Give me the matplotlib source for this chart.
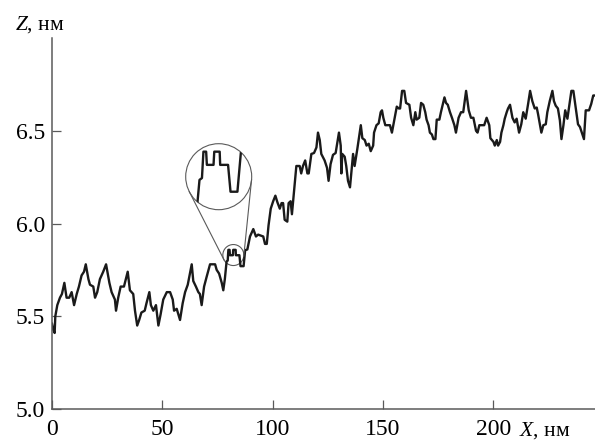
import numpy as np
import matplotlib
matplotlib.use("Agg")
import matplotlib.pyplot as plt
from matplotlib.patches import Circle
from matplotlib.transforms import ScaledTranslation

plt.rcParams["font.family"] = ["Liberation Serif", "DejaVu Serif"]
plt.rcParams["mathtext.fontset"] = "custom"
plt.rcParams["mathtext.rm"] = "Liberation Serif"
plt.rcParams["mathtext.it"] = "Liberation Serif:italic"

# profile: X (nm), Z (nm)
x_nm = [
    0.0, 0.5, 1.2, 1.5, 2.4, 3.6, 4.5, 5.6, 6.6, 7.8, 8.9, 10.0, 11.2, 12.2,
    13.4, 14.5, 15.3, 16.5, 17.2, 18.7, 19.5, 20.5, 21.7, 23.2, 24.5, 26.0,
    27.0, 28.5, 29.0, 30.0, 31.1, 32.6, 34.3, 35.3, 36.8, 37.6, 38.6, 39.5,
    40.5, 42.0, 42.8, 44.1, 44.8, 45.9, 47.1, 48.2, 49.2, 50.4, 52.0, 53.5,
    54.7, 55.3, 56.5, 58.0, 59.2, 60.3, 61.5, 63.3, 64.0, 65.2, 66.3, 67.0,
    67.8, 68.9, 70.0, 71.6, 73.9, 74.6, 75.7, 76.9, 77.6, 78.3, 78.7, 79.1,
    79.6, 79.9, 80.45, 80.6, 81.95, 82.1, 83.2, 83.3, 84.9, 85.4, 86.8, 87.5,
    88.5, 89.7, 91.2, 92.4, 93.4, 95.7, 96.5, 97.3, 98.1, 99.1, 100.2, 101.2,
    102.1, 103.2, 104.0, 104.7, 105.4, 106.6, 107.2, 108.1, 108.7, 109.6,
    110.7, 112.2, 112.9, 113.7, 114.7, 115.7, 116.3, 117.5, 118.7, 119.8,
    120.5, 121.3, 122.0, 123.5, 124.6, 125.3, 126.2, 127.3, 128.5, 130.0,
    130.8, 131.1, 131.5, 132.6, 133.3, 134.1, 135.0, 135.6, 136.4, 137.1,
    138.3, 139.9, 140.6, 141.7, 142.5, 143.5, 144.4, 145.5, 145.9, 147.0,
    148.0, 148.9, 149.5, 150.1, 151.0, 153.1, 154.0, 155.1, 156.2, 157.1,
    157.7, 158.6, 159.6, 160.4, 161.9, 162.7, 163.7, 164.6, 165.2, 166.4,
    167.2, 168.2, 169.1, 169.7, 170.6, 171.2, 172.1, 172.8, 173.7, 174.3,
    175.5, 176.2, 177.8, 178.5, 179.3, 180.3, 181.2, 182.3, 183.0, 184.2,
    185.3, 186.3, 187.6, 188.8, 189.8, 190.9, 192.1, 192.8, 193.6, 195.8,
    196.9, 198.1, 198.6, 200.0, 200.6, 201.5, 202.1, 203.0, 203.6, 204.5,
    205.1, 206.0, 206.6, 207.5, 208.6, 209.6, 210.5, 211.6, 212.6, 213.5,
    214.6, 215.7, 216.6, 217.6, 218.7, 219.6, 220.2, 221.1, 221.7, 222.6,
    223.7, 224.4, 225.5, 226.7, 227.4, 228.2, 229.2, 230.1, 230.8, 231.7,
    232.5, 233.5, 234.3, 235.3, 236.2, 237.3, 238.3, 239.2, 240.3, 241.0,
    241.8, 243.3, 244.3, 245.2, 246.0,
]
z_nm = [
    5.46, 5.43, 5.41, 5.50, 5.56, 5.60, 5.62, 5.68, 5.60, 5.60, 5.63, 5.56,
    5.62, 5.66, 5.72, 5.74, 5.78, 5.70, 5.67, 5.66, 5.60, 5.63, 5.70, 5.74,
    5.78, 5.68, 5.63, 5.59, 5.53, 5.60, 5.66, 5.66, 5.74, 5.64, 5.62, 5.53,
    5.45, 5.48, 5.52, 5.53, 5.57, 5.63, 5.56, 5.53, 5.56, 5.45, 5.51, 5.59,
    5.63, 5.63, 5.59, 5.53, 5.54, 5.48, 5.57, 5.63, 5.67, 5.78, 5.69, 5.66,
    5.63, 5.62, 5.56, 5.66, 5.71, 5.78, 5.78, 5.75, 5.73, 5.68, 5.64, 5.70,
    5.748, 5.796, 5.80, 5.858, 5.858, 5.829, 5.829, 5.858, 5.858, 5.829,
    5.829, 5.77, 5.77, 5.856, 5.86, 5.93, 5.97, 5.93, 5.94, 5.93, 5.89, 5.89,
    5.99, 6.08, 6.12, 6.15, 6.115, 6.08, 6.11, 6.11, 6.02, 6.01, 6.11, 6.12,
    6.05, 6.17, 6.31, 6.31, 6.27, 6.31, 6.34, 6.27, 6.27, 6.375, 6.38, 6.41,
    6.49, 6.45, 6.375, 6.34, 6.30, 6.23, 6.32, 6.37, 6.38, 6.49, 6.42, 6.27,
    6.375, 6.36, 6.31, 6.23, 6.195, 6.27, 6.375, 6.31, 6.40, 6.53, 6.46, 6.45,
    6.42, 6.43, 6.39, 6.42, 6.49, 6.53, 6.54, 6.60, 6.61, 6.57, 6.53, 6.53,
    6.49, 6.56, 6.63, 6.62, 6.62, 6.715, 6.715, 6.65, 6.64, 6.57, 6.53, 6.60,
    6.56, 6.57, 6.65, 6.64, 6.60, 6.56, 6.53, 6.49, 6.48, 6.455, 6.455, 6.56,
    6.56, 6.60, 6.68, 6.65, 6.64, 6.60, 6.57, 6.53, 6.49, 6.57, 6.60, 6.60,
    6.715, 6.61, 6.57, 6.57, 6.50, 6.49, 6.53, 6.53, 6.57, 6.53, 6.46, 6.44,
    6.42, 6.45, 6.42, 6.44, 6.49, 6.53, 6.565, 6.60, 6.62, 6.64, 6.57, 6.545,
    6.565, 6.49, 6.535, 6.60, 6.565, 6.645, 6.715, 6.66, 6.62, 6.625, 6.59,
    6.53, 6.49, 6.53, 6.535, 6.60, 6.66, 6.715, 6.66, 6.635, 6.62, 6.555,
    6.455, 6.53, 6.61, 6.565, 6.63, 6.715, 6.715, 6.62, 6.535, 6.52, 6.48,
    6.455, 6.61, 6.61, 6.645, 6.69, 6.69,
]

x_ticks = [0, 50, 100, 150, 200]
z_ticks = [5.0, 5.5, 6.0, 6.5]

# magnified fragment
zoom_center = (82.15, 5.83)
zoom_xlim = (76.3, 89.7)
zoom_ylim = (5.7305, 5.8755)

W, H = 595, 441
LINE = "#1a1a1a"
GREY = "#5a5a5a"


def main() -> None:
    fig = plt.figure(figsize=(W / 100, H / 100), dpi=100)
    ax = fig.add_axes([52 / W, 32 / H, (W - 52) / W, (409 - 38) / H])

    ax.plot(x_nm, z_nm, color=LINE, linewidth=1.7)
    ax.set_xlim(0, 246)
    ax.set_ylim(5.0, 7.0)
    ax.set_xticks(x_ticks)
    ax.set_yticks(z_ticks)
    ax.set_yticklabels([f"{v:.1f}" for v in z_ticks])
    ax.tick_params(direction="in", length=6.5, width=0.9, color=GREY,
                   labelsize=17)
    ax.tick_params(axis="x", pad=7.5)
    ax.tick_params(axis="y", pad=5)
    for side in ("top", "right"):
        ax.spines[side].set_visible(False)
    for side in ("left", "bottom"):
        ax.spines[side].set_color(GREY)
        ax.spines[side].set_linewidth(1.1)

    fig.text(15 / W, (H - 30) / H, "$Z$, нм", fontsize=15.5, va="baseline")
    fig.text(519 / W, (H - 435.5) / H, "$X$, нм", fontsize=15.5,
             va="baseline")

    # small circle on the curve
    r_small = 10.5
    ax.add_artist(Circle((0, 0), r_small / 100, fill=False, edgecolor=GREY,
                         linewidth=0.8,
                         transform=fig.dpi_scale_trans
                         + ScaledTranslation(*zoom_center, ax.transData)))

    # magnified view in a round inset
    cx, cy, r_big = 218.7, H - 176.7, 33.0
    ax_in = fig.add_axes([(cx - r_big) / W, (cy - r_big) / H,
                          2 * r_big / W, 2 * r_big / H])
    ax_in.axis("off")
    ring = Circle((0.5, 0.5), 0.5, transform=ax_in.transAxes, fill=False,
                  edgecolor=GREY, linewidth=0.8, clip_on=False)
    ax_in.add_patch(ring)
    (zl,) = ax_in.plot(x_nm, z_nm, color=LINE, linewidth=1.7)
    zl.set_clip_path(ring)
    ax_in.set_xlim(*zoom_xlim)
    ax_in.set_ylim(*zoom_ylim)

    # tangent lines between the two circles
    c1 = np.array([cx, cy])
    c2 = ax.transData.transform(zoom_center)
    d = c2 - c1
    dist = np.hypot(*d)
    u = d / dist
    perp = np.array([-u[1], u[0]])
    cos_a = (r_big - r_small) / dist
    sin_a = np.sqrt(1 - cos_a ** 2)
    inv = ax.transData.inverted()
    for s in (1, -1):
        n = cos_a * u + s * sin_a * perp
        p = inv.transform([c1 + r_big * n, c2 + r_small * n])
        ax.plot(p[:, 0], p[:, 1], color=GREY, linewidth=0.8)

    fig.savefig("out.png", dpi=100)


if __name__ == "__main__":
    main()
